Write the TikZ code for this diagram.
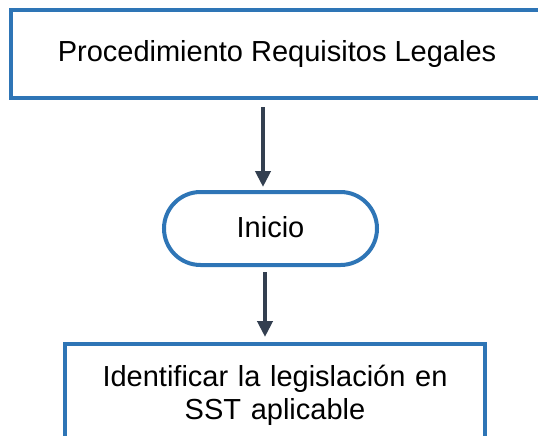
\documentclass[tikz,border=0pt]{standalone}
\usepackage{fontspec}
\setmainfont{Liberation Sans}
\usetikzlibrary{arrows.meta,shapes.misc}
\definecolor{boxblue}{HTML}{2E75B6}
\definecolor{arrowgray}{HTML}{333F50}
\tikzset{
  flowbox/.style={draw=boxblue, line width=4pt, rectangle, fill=white, inner sep=0pt},
  termbox/.style={draw=boxblue, line width=4pt, rounded rectangle, fill=white, inner sep=0pt},
  flowarrow/.style={draw=arrowgray, line width=4pt, -{Triangle[width=15pt,length=16pt]}},
  lbl/.style={font=\fontsize{29}{33}\selectfont}
}
\begin{document}
\begin{tikzpicture}[x=1pt,y=-1pt]
\useasboundingbox (0,0) rectangle (538,436);
\clip (0,0) rectangle (538,436);
\node[flowbox, lbl, minimum width=534pt, minimum height=88pt] (n1) at (278,54)
  {\hspace*{-2pt}Procedimiento Requisitos Legales};
\node[termbox, lbl, minimum width=213pt, minimum height=73pt, text depth=4pt] (n2) at (270.5,228.5) {Inicio};
\node[flowbox, lbl, anchor=north, minimum width=420pt, minimum height=102pt, text width=410pt, align=center] (n3) at (275,342)
  {Identificar la legislación en\\SST aplicable};
\draw[flowarrow, shorten <=7pt, shorten >=3pt] ([xshift=-15pt]n1.south) -- ([xshift=-7.5pt]n2.north);
\draw[flowarrow, shorten <=5pt, shorten >=5pt] ([xshift=-5.5pt]n2.south) -- ([xshift=-10pt]n3.north);
\end{tikzpicture}
\end{document}
